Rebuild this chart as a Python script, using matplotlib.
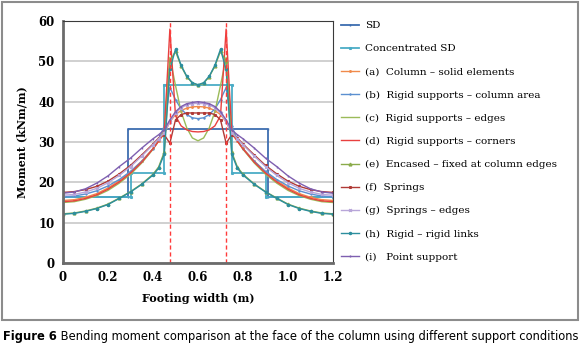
import matplotlib
matplotlib.use("Agg")
import matplotlib.pyplot as plt
from matplotlib.patches import Rectangle

# footing positions (m)
x = [0, .05, .1, .15, .2, .25, .3, .35, .4, .425, .45, .475, .5, .525, .55, .575, .6,
     .625, .65, .675, .7, .725, .75, .775, .8, .85, .9, .95, 1.0, 1.05, 1.1, 1.15, 1.2]

sd_x = [0, 0.29, 0.29, 0.91, 0.91, 1.2]
sd_y = [16.4, 16.4, 33.2, 33.2, 16.4, 16.4]
csd_x = [0, 0.3, 0.3, 0.45, 0.45, 0.75, 0.75, 0.9, 0.9, 1.2]
csd_y = [16.4, 16.4, 22.2, 22.2, 44.2, 44.2, 22.2, 22.2, 16.4, 16.4]

m_a = [15.5, 15.7, 16.3, 17.2, 18.6, 20.4, 22.6, 25.3, 28.4, 30.2, 32.0, 35.0, 36.8, 37.8, 38.4, 38.7, 38.8,
       38.7, 38.4, 37.8, 36.8, 35.0, 32.0, 30.2, 28.4, 25.3, 22.6, 20.4, 18.6, 17.2, 16.3, 15.7, 15.5]
m_b = [16.4, 16.6, 17.1, 17.9, 19.1, 20.7, 22.7, 25.2, 28.3, 30.5, 34.0, 43.5, 40.5, 38.2, 36.8, 36.0, 35.8,
       36.0, 36.8, 38.2, 40.5, 43.5, 34.0, 30.5, 28.3, 25.2, 22.7, 20.7, 19.1, 17.9, 17.1, 16.6, 16.4]
m_c = [15.0, 15.2, 15.8, 16.7, 18.0, 19.8, 22.0, 24.8, 28.2, 30.3, 33.0, 51.0, 44.0, 37.5, 33.5, 31.0, 30.3,
       31.0, 33.5, 37.5, 44.0, 51.0, 33.0, 30.3, 28.2, 24.8, 22.0, 19.8, 18.0, 16.7, 15.8, 15.2, 15.0]
m_d = [15.2, 15.4, 16.0, 16.9, 18.3, 20.1, 22.3, 25.0, 28.3, 30.2, 32.5, 58.0, 36.5, 34.0, 33.0, 32.6, 32.5,
       32.6, 33.0, 34.0, 36.5, 58.0, 32.5, 30.2, 28.3, 25.0, 22.3, 20.1, 18.3, 16.9, 16.0, 15.4, 15.2]
m_e = [12.2, 12.4, 12.9, 13.6, 14.6, 16.1, 17.7, 19.6, 22.0, 23.8, 27.5, 50.0, 52.5, 48.8, 46.2, 44.6, 44.1,
       44.6, 46.2, 48.8, 52.5, 50.0, 27.5, 23.8, 22.0, 19.6, 17.7, 16.1, 14.6, 13.6, 12.9, 12.4, 12.2]
m_f = [17.5, 17.7, 18.2, 19.0, 20.3, 22.1, 24.2, 26.8, 29.5, 31.0, 31.8, 29.7, 35.5, 36.8, 37.2, 37.2, 37.2,
       37.2, 37.2, 36.8, 35.5, 29.7, 31.8, 31.0, 29.5, 26.8, 24.2, 22.1, 20.3, 19.0, 18.2, 17.7, 17.5]
m_g = [16.8, 17.0, 17.6, 18.5, 19.9, 21.7, 23.9, 26.5, 29.3, 30.8, 32.3, 35.0, 37.2, 38.5, 39.2, 39.5, 39.6,
       39.5, 39.2, 38.5, 37.2, 35.0, 32.3, 30.8, 29.3, 26.5, 23.9, 21.7, 19.9, 18.5, 17.6, 17.0, 16.8]
m_h = [12.1, 12.3, 12.8, 13.5, 14.5, 16.0, 17.6, 19.5, 21.8, 23.5, 27.0, 48.0, 53.0, 49.0, 46.3, 44.7, 44.2,
       44.7, 46.3, 49.0, 53.0, 48.0, 27.0, 23.5, 21.8, 19.5, 17.6, 16.0, 14.5, 13.5, 12.8, 12.3, 12.1]
m_i = [17.3, 17.6, 18.4, 19.8, 21.6, 23.9, 26.0, 28.5, 30.8, 31.8, 33.0, 35.5, 37.5, 38.8, 39.5, 39.8, 40.0,
       39.8, 39.5, 38.8, 37.5, 35.5, 33.0, 31.8, 30.8, 28.5, 26.0, 23.9, 21.6, 19.8, 18.4, 17.6, 17.3]

col_faces = [0.475, 0.725]

fig = plt.figure(figsize=(5.8, 3.48), dpi=100)
fig.patches.append(Rectangle((0.003, 1 - 320 / 348), 0.994, 318 / 348, transform=fig.transFigure,
                             fill=False, edgecolor='#8c8c8c', linewidth=1.5))
ax = fig.add_axes([63 / 580, 1 - 263 / 348, 270 / 580, 242 / 348])

serif = 'DejaVu Serif'
ax.plot(sd_x, sd_y, color='#3d6db0', lw=1.3, marker='|', ms=2, label='SD')
ax.plot(csd_x, csd_y, color='#4bacc6', lw=1.3, marker='s', ms=1.2, label='Concentrated SD')
ax.plot(x, m_a, color='#f08a4b', lw=1.0, marker='o', ms=1.1, label='(a)  Column – solid elements')
ax.plot(x, m_b, color='#5b8fd0', lw=1.0, marker='+', ms=2, label='(b)  Rigid supports – column area')
ax.plot(x, m_c, color='#9bbb59', lw=1.0, label='(c)  Rigid supports – edges')
ax.plot(x, m_d, color='#e8403f', lw=1.0, label='(d)  Rigid supports – corners')
ax.plot(x, m_e, color='#8aab4a', lw=1.0, marker='^', ms=2, label='(e)  Encased – fixed at column edges')
ax.plot(x, m_f, color='#b03a36', lw=1.0, marker='s', ms=1.2, label='(f)  Springs')
ax.plot(x, m_g, color='#b8a6d9', lw=1.0, marker='x', ms=2, label='(g)  Springs – edges')
ax.plot(x, m_h, color='#2c8e9e', lw=1.0, marker='o', ms=1.5, label='(h)  Rigid – rigid links')
ax.plot(x, m_i, color='#7e5fb0', lw=1.0, marker='|', ms=2, label='(i)   Point support')

for xc in col_faces:
    ax.axvline(xc, color='#ff3b3b', lw=1.0, ls=(0, (3, 2)))

ax.set_xlim(0, 1.2)
ax.set_ylim(0, 60)
ax.set_xticks([0, 0.2, 0.4, 0.6, 0.8, 1.0, 1.2])
ax.set_xticklabels(['0', '0.2', '0.4', '0.6', '0.8', '1.0', '1.2'])
ax.set_yticks(range(0, 61, 10))
ax.grid(axis='y', color='#c8c8c8', lw=1.2)
ax.set_axisbelow(True)
ax.tick_params(length=0, pad=6)
for lab in ax.get_xticklabels() + ax.get_yticklabels():
    lab.set_fontfamily(serif)
    lab.set_fontweight('bold')
    lab.set_fontsize(8.5)
for s in ['left', 'bottom']:
    ax.spines[s].set_color('#6b6b6b')
    ax.spines[s].set_linewidth(2)
for s in ['top', 'right']:
    ax.spines[s].set_color('#3a3a3a')
    ax.spines[s].set_linewidth(0.8)

ax.set_xlabel('Footing width (m)', fontfamily=serif, fontweight='bold', fontsize=8, labelpad=6)
ax.set_ylabel('Moment (kNm/m)', fontfamily=serif, fontweight='bold', fontsize=8, labelpad=8)

ax.legend(loc='upper left', bbox_to_anchor=(341 / 580, 1 - 21 / 348), bbox_transform=fig.transFigure,
          frameon=False, prop={'family': serif, 'size': 7.5}, handlelength=1.7,
          labelspacing=1.33, borderaxespad=0, borderpad=0, handletextpad=0.6)

cap_font = ['DejaVu Sans Condensed', 'Liberation Sans Narrow', 'DejaVu Sans']
t1 = fig.text(3 / 580, 1 - 340 / 348, 'Figure 6', ha='left', va='baseline', fontsize=8.3,
              fontweight='bold', fontfamily=cap_font)
ax.annotate(' Bending moment comparison at the face of the column using different support conditions',
            xy=(1, 0), xycoords=t1, ha='left', va='bottom', fontsize=8.3, fontfamily=cap_font,
            annotation_clip=False)

fig.savefig('out.png', dpi=100)
